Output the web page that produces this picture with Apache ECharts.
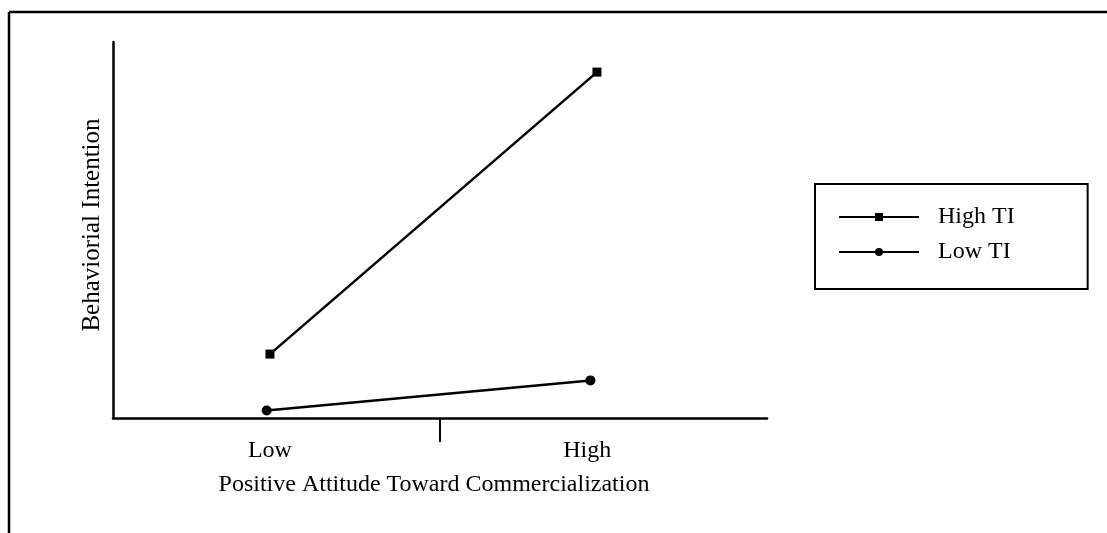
<!DOCTYPE html>
<html>
<head>
<meta charset="utf-8">
<script src="https://cdn.jsdelivr.net/npm/echarts@6/dist/echarts.min.js"></script>
<style>
html, body { margin: 0; padding: 0; background: #fff; }
#chart { width: 1107px; height: 533px; }
</style>
</head>
<body>
<div id="chart"></div>
<script>
// x: 0..2, Low around 0.48, High around 1.47
var seriesNames = ['High TI', 'Low TI'];
var highTI = [[0.48, 1.7], [1.48, 9.2]];
var lowTI = [[0.47, 0.2], [1.46, 1.0]];
var xLabelPos = [0.48, 1.45];
var xLabels = ['Low', 'High'];
var xTickPos = [1];

var font = '"Liberation Serif", "DejaVu Serif", serif';
var chart = echarts.init(document.getElementById('chart'));

var option = {
    backgroundColor: '#fff',
    animation: false,
    grid: { left: 113, right: 340, top: 42, bottom: 115 },
    // 外框（上、左）
    graphic: [
        { type: 'line', shape: { x1: 9, y1: 12, x2: 1107, y2: 12 }, style: { stroke: '#000', lineWidth: 2.5 } },
        { type: 'line', shape: { x1: 9, y1: 12, x2: 9, y2: 533 }, style: { stroke: '#000', lineWidth: 2.5 } }
    ],
    legend: {
        orient: 'vertical',
        left: 815,
        top: 184,
        padding: [21, 73, 25, 23],
        borderColor: '#000',
        borderWidth: 2,
        itemWidth: 80,
        itemHeight: 10,
        itemGap: 11,
        textStyle: { fontFamily: font, fontSize: 24, color: '#000', padding: [0, 0, 0, 14] },
        data: seriesNames
    },
    xAxis: {
        type: 'value',
        min: 0,
        max: 2,
        splitLine: { show: false },
        axisLine: { show: true, lineStyle: { color: '#000', width: 2.5 } },
        axisTick: { show: true, customValues: xTickPos, length: 24, inside: false, lineStyle: { color: '#000', width: 2 } },
        axisLabel: {
            customValues: xLabelPos,
            margin: 21,
            fontFamily: font, fontSize: 24, color: '#000',
            formatter: function (v) { return v < 1 ? xLabels[0] : xLabels[1]; }
        },
        name: 'Positive Attitude Toward Commercialization',
        nameLocation: 'middle',
        nameGap: 55,
        nameTextStyle: { fontFamily: font, fontSize: 24, color: '#000', padding: [0, 12, 0, 0] }
    },
    yAxis: {
        type: 'value',
        min: 0,
        max: 10,
        splitLine: { show: false },
        axisLine: { show: true, lineStyle: { color: '#000', width: 2.5 } },
        axisTick: { show: false },
        axisLabel: { show: false },
        name: 'Behaviorial Intention',
        nameLocation: 'middle',
        nameGap: 8,
        nameTextStyle: { fontFamily: font, fontSize: 25, color: '#000', padding: [0, 0, 0, 10] }
    },
    series: [
        {
            name: seriesNames[0],
            type: 'line',
            data: highTI,
            symbol: 'rect',
            symbolSize: 9,
            lineStyle: { color: '#000', width: 2.5 },
            itemStyle: { color: '#000' }
        },
        {
            name: seriesNames[1],
            type: 'line',
            data: lowTI,
            symbol: 'circle',
            symbolSize: 10,
            lineStyle: { color: '#000', width: 2.5 },
            itemStyle: { color: '#000' }
        }
    ]
};
chart.setOption(option);
</script>
</body>
</html>
